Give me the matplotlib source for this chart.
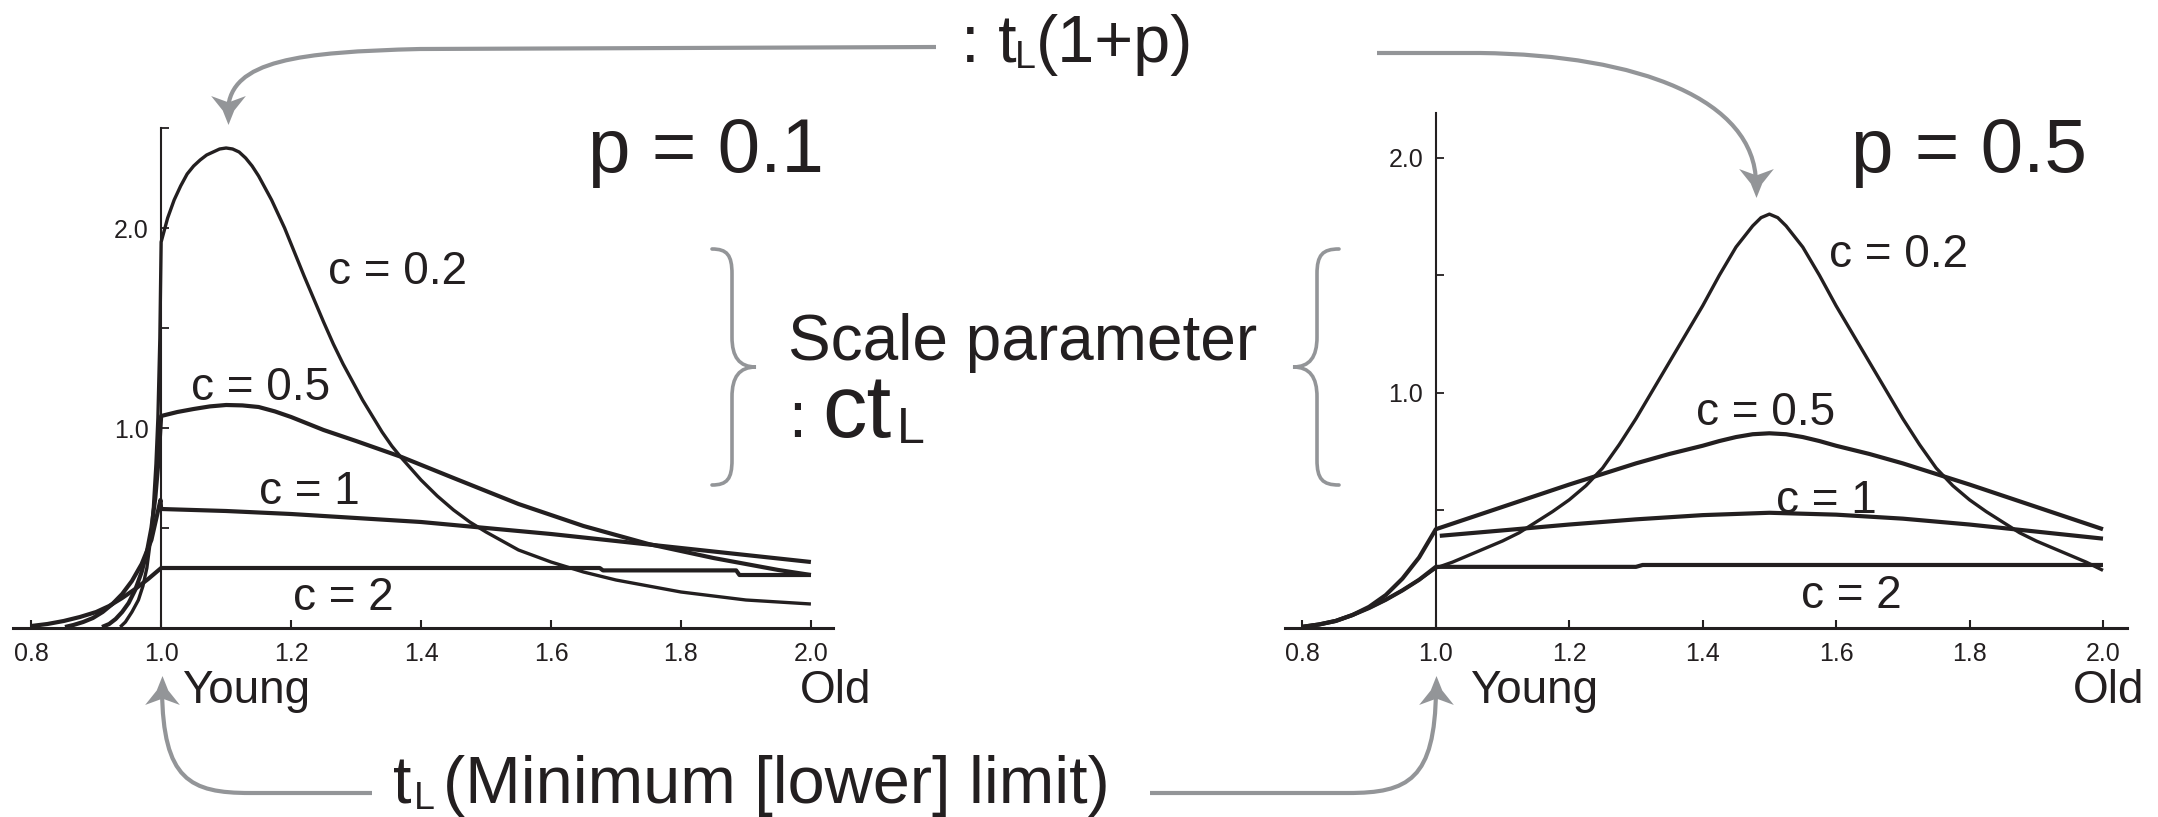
import matplotlib
matplotlib.use("Agg")
import matplotlib.pyplot as plt
from matplotlib.patches import PathPatch
from matplotlib.path import Path

plt.rcParams['font.family'] = ['Liberation Sans', 'DejaVu Sans']

INK = '#231f20'
GREY = '#939598'

# ------------------ DATA ------------------ #
# left panel, p = 0.1
x_p01_c02 = [0.937, 0.945, 0.955, 0.965, 0.972, 0.978, 0.984, 0.988, 0.992, 0.995, 0.998,
             1.0, 1.01, 1.02, 1.03, 1.04, 1.05, 1.06, 1.07, 1.08, 1.09, 1.10, 1.11, 1.12,
             1.13, 1.14, 1.15, 1.16, 1.17, 1.18, 1.19, 1.20, 1.21, 1.22, 1.235, 1.25,
             1.265, 1.28, 1.295, 1.31, 1.325, 1.34, 1.355, 1.37, 1.385, 1.40, 1.425, 1.45,
             1.475, 1.50, 1.55, 1.60, 1.65, 1.70, 1.75, 1.80, 1.85, 1.90, 1.95, 2.00]
y_p01_c02 = [0.005, 0.03, 0.08, 0.14, 0.21, 0.30, 0.45, 0.60, 0.82, 1.05, 1.45,
             1.93, 2.05, 2.14, 2.21, 2.27, 2.31, 2.34, 2.365, 2.38, 2.395, 2.40, 2.395, 2.38,
             2.35, 2.31, 2.26, 2.20, 2.14, 2.07, 2.00, 1.92, 1.84, 1.76, 1.645, 1.53,
             1.42, 1.32, 1.23, 1.14, 1.06, 0.98, 0.91, 0.85, 0.795, 0.74, 0.66, 0.59,
             0.53, 0.48, 0.39, 0.33, 0.28, 0.24, 0.21, 0.18, 0.16, 0.14, 0.13, 0.12]

x_p01_c05 = [0.909, 0.92, 0.93, 0.94, 0.95, 0.96, 0.97, 0.978, 0.985, 0.991, 0.996, 1.0,
             1.025, 1.05, 1.075, 1.10, 1.125, 1.15, 1.175, 1.20, 1.25, 1.30, 1.37, 1.45,
             1.55, 1.65, 1.75, 1.85, 1.95, 2.00]
y_p01_c05 = [0.005, 0.02, 0.045, 0.08, 0.125, 0.19, 0.28, 0.38, 0.50, 0.65, 0.84, 1.06,
             1.08, 1.095, 1.108, 1.115, 1.113, 1.105, 1.083, 1.055, 0.99, 0.935, 0.855,
             0.75, 0.62, 0.51, 0.42, 0.35, 0.29, 0.265]

x_p01_c1 = [0.852, 0.865, 0.88, 0.895, 0.91, 0.925, 0.94, 0.955, 0.97, 0.985, 0.999, 1.0,
            1.1, 1.2, 1.3, 1.4, 1.5, 1.6, 1.7, 1.8, 1.9, 2.0]
y_p01_c1 = [0.005, 0.015, 0.03, 0.05, 0.08, 0.12, 0.17, 0.235, 0.32, 0.44, 0.64, 0.595,
            0.585, 0.57, 0.55, 0.53, 0.50, 0.47, 0.435, 0.40, 0.365, 0.33]

x_p01_c2 = [0.80, 0.825, 0.85, 0.875, 0.90, 0.92, 0.94, 0.96, 0.98, 1.0, 1.675, 1.68,
            1.885, 1.89, 2.0]
y_p01_c2 = [0.01, 0.02, 0.035, 0.055, 0.08, 0.11, 0.15, 0.195, 0.245, 0.30, 0.30, 0.288,
            0.288, 0.265, 0.265]

# right panel, p = 0.5
x_p05_c02 = [0.80, 0.825, 0.85, 0.875, 0.90, 0.925, 0.95, 0.975, 1.0, 1.025, 1.05, 1.075,
             1.10, 1.125, 1.15, 1.175, 1.20, 1.225, 1.25, 1.275, 1.30, 1.325, 1.35, 1.375,
             1.40, 1.425, 1.45, 1.475, 1.4875, 1.50, 1.5125, 1.525, 1.55, 1.575, 1.60,
             1.625, 1.65, 1.675, 1.70, 1.725, 1.75, 1.775, 1.80, 1.825, 1.85, 1.875, 1.90,
             1.925, 1.95, 1.975, 2.00]
y_p05_c02 = [0.005, 0.015, 0.03, 0.055, 0.085, 0.12, 0.16, 0.205, 0.255, 0.28, 0.31, 0.34,
             0.37, 0.405, 0.45, 0.495, 0.545, 0.605, 0.68, 0.78, 0.89, 1.01, 1.13, 1.25,
             1.37, 1.50, 1.62, 1.71, 1.745, 1.76, 1.745, 1.71, 1.62, 1.50, 1.37,
             1.25, 1.13, 1.01, 0.89, 0.78, 0.68, 0.605, 0.545, 0.495, 0.45, 0.405, 0.37,
             0.34, 0.31, 0.28, 0.245]

x_p05_c05 = [0.80, 0.825, 0.85, 0.875, 0.90, 0.925, 0.95, 0.975, 1.0, 1.1, 1.2, 1.3, 1.35,
             1.4, 1.425, 1.45, 1.475, 1.5, 1.525, 1.55, 1.575, 1.6, 1.65, 1.7, 1.8, 1.9, 2.0]
y_p05_c05 = [0.005, 0.015, 0.03, 0.055, 0.09, 0.14, 0.21, 0.30, 0.42, 0.515, 0.61, 0.70,
             0.74, 0.775, 0.795, 0.812, 0.824, 0.828, 0.824, 0.812, 0.795, 0.775, 0.74,
             0.70, 0.61, 0.515, 0.42]

x_p05_c1 = [1.006, 1.1, 1.2, 1.3, 1.4, 1.5, 1.6, 1.7, 1.8, 1.9, 2.0]
y_p05_c1 = [0.392, 0.415, 0.44, 0.462, 0.48, 0.49, 0.482, 0.465, 0.44, 0.41, 0.38]

x_p05_c2 = [0.80, 0.825, 0.85, 0.875, 0.90, 0.925, 0.95, 0.975, 1.0, 1.3, 1.31, 2.0]
y_p05_c2 = [0.005, 0.015, 0.03, 0.055, 0.085, 0.12, 0.16, 0.205, 0.26, 0.26, 0.268, 0.268]

c_labels = ['c = 0.2', 'c = 0.5', 'c = 1', 'c = 2']
# label anchor (x, baseline y) in data units
lab_p01 = [(1.257, 1.72), (1.046, 1.14), (1.151, 0.62), (1.203, 0.092)]
lab_p05 = [(1.59, 1.537), (1.39, 0.863), (1.51, 0.489), (1.548, 0.085)]

xticks = [0.8, 1.0, 1.2, 1.4, 1.6, 1.8, 2.0]
xtick_labels = ['0.8', '1.0', '1.2', '1.4', '1.6', '1.8', '2.0']
yticks_p01 = [0.5, 1.0, 1.5, 2.0, 2.5]
yticks_p05 = [0.5, 1.0, 1.5, 2.0]
ytick_labels = {1.0: '1.0', 2.0: '2.0'}

W, H = 2158, 817
fig = plt.figure(figsize=(W / 100, H / 100), dpi=100)
fig.patch.set_facecolor('white')


def panel(rect, xlim, ytop, yticks, curves, labels):
    ax = fig.add_axes(rect)
    ax.set_xlim(*xlim)
    ax.set_ylim(0, ytop)
    ax.patch.set_alpha(0)
    for s in ('top', 'right'):
        ax.spines[s].set_visible(False)
    ax.spines['left'].set_position(('data', 1.0))
    ax.spines['left'].set_bounds(0, ytop)
    ax.spines['left'].set_linewidth(1.5)
    ax.spines['bottom'].set_linewidth(2.2)
    for s in ('left', 'bottom'):
        ax.spines[s].set_color(INK)
    ax.set_xticks(xticks)
    ax.set_xticklabels(xtick_labels)
    ax.set_yticks(yticks)
    ax.set_yticklabels([ytick_labels.get(v, '') for v in yticks])
    ax.tick_params(axis='x', direction='in', length=6, width=1.5, pad=10,
                   labelsize=18, colors=INK)
    ax.tick_params(axis='y', direction='in', length=6, width=1.3, pad=9,
                   labelsize=18, colors=INK)
    for (xs, ys, lw) in curves:
        ax.plot(xs, ys, color=INK, lw=lw, clip_on=False, zorder=3,
                solid_joinstyle='round', solid_capstyle='butt')
    for txt, (lx, ly) in zip(c_labels, labels):
        ax.text(lx, ly, txt, fontsize=33, color=INK, ha='left', va='baseline')
    return ax


panel([13 / W, 1 - 628 / H, 820 / W, 500 / H], (0.772, 2.034), 2.5, yticks_p01,
      [(x_p01_c02, y_p01_c02, 2.4), (x_p01_c05, y_p01_c05, 3.0),
       (x_p01_c1, y_p01_c1, 3.0), (x_p01_c2, y_p01_c2, 3.0)], lab_p01)
panel([1285 / W, 1 - 628 / H, 842 / W, 515 / H], (0.774, 2.036), 2.19, yticks_p05,
      [(x_p05_c02, y_p05_c02, 2.4), (x_p05_c05, y_p05_c05, 3.0),
       (x_p05_c1, y_p05_c1, 3.0), (x_p05_c2, y_p05_c2, 3.0)], lab_p05)

# ------------------ annotation layer (pixel coords) ------------------ #
ov = fig.add_axes([0, 0, 1, 1])
ov.set_xlim(0, W)
ov.set_ylim(H, 0)
ov.axis('off')
ov.patch.set_alpha(0)

M, L4, C4 = Path.MOVETO, Path.LINETO, Path.CURVE4
# gray guide arrows: line path, then head position and direction
arrows = [
    ([(936, 47), (420, 49), (300, 52), (230, 60), (228, 110)], (228, 110), 'down'),
    ([(1377, 53), (1480, 53), (1640, 55), (1755, 100), (1756, 183)], (1756, 183), 'down'),
    ([(372, 793), (250, 793), (190, 793), (163, 780), (162, 690)], (162, 690), 'up'),
    ([(1150, 793), (1348, 793), (1408, 793), (1435, 780), (1436, 690)], (1436, 690), 'up'),
]
head_up = Path([(0, 0.5), (0.2, 0.0), (0.6, -0.5), (0, -0.28), (-0.6, -0.5), (-0.2, 0.0),
                (0, 0.5)], [M, L4, L4, L4, L4, L4, Path.CLOSEPOLY])
head_down = Path([(x, -y) for x, y in head_up.vertices], head_up.codes)
for pts, (hx, hy), way in arrows:
    ov.add_patch(PathPatch(Path(pts, [M, L4, C4, C4, C4]), fill=False,
                           edgecolor=GREY, lw=3, capstyle='butt'))
    ov.plot([hx], [hy], marker=head_up if way == 'up' else head_down,
            markersize=25, color=GREY, markeredgewidth=0, zorder=4)


def brace(xe, xs, xt, yt, yb):
    ym = (yt + yb) / 2
    d = xs - xe
    v = [(xe, yt), (xe + 0.75 * d, yt), (xs, yt + 6), (xs, yt + 25),
         (xs, ym - 30),
         (xs, ym - 10), (xs + (xt - xs) * 0.3, ym), (xt, ym),
         (xs + (xt - xs) * 0.3, ym), (xs, ym + 10), (xs, ym + 30),
         (xs, yb - 25),
         (xs, yb - 6), (xe + 0.75 * d, yb), (xe, yb)]
    c = [M, C4, C4, C4, L4, C4, C4, C4, C4, C4, C4, L4, C4, C4, C4]
    ov.add_patch(PathPatch(Path(v, c), fill=False, edgecolor=GREY, lw=2.6,
                           capstyle='round'))


brace(712, 732, 756, 249, 485)
brace(1339, 1317, 1293, 249, 485)

texts = [
    (961, 62, ': t', 48), (1015, 68, 'L', 27), (1036, 62, '(1+p)', 48),
    (588, 172, 'p = 0.1', 55), (1851, 172, 'p = 0.5', 55),
    (788, 360, 'Scale parameter', 46), (788, 437, ':', 46),
    (822, 437, 'ct', 64), (897, 443, 'L', 36),
    (182, 703, 'Young', 33), (800, 703, 'Old', 33),
    (1470, 703, 'Young', 33), (2073, 703, 'Old', 33),
    (393, 803, 't', 48), (414, 809, 'L', 27), (443, 803, '(Minimum [lower] limit)', 48),
]
for x, y, s, fs in texts:
    ov.text(x, y, s, fontsize=fs, color=INK, ha='left', va='baseline')

fig.savefig('out.png', dpi=100)
